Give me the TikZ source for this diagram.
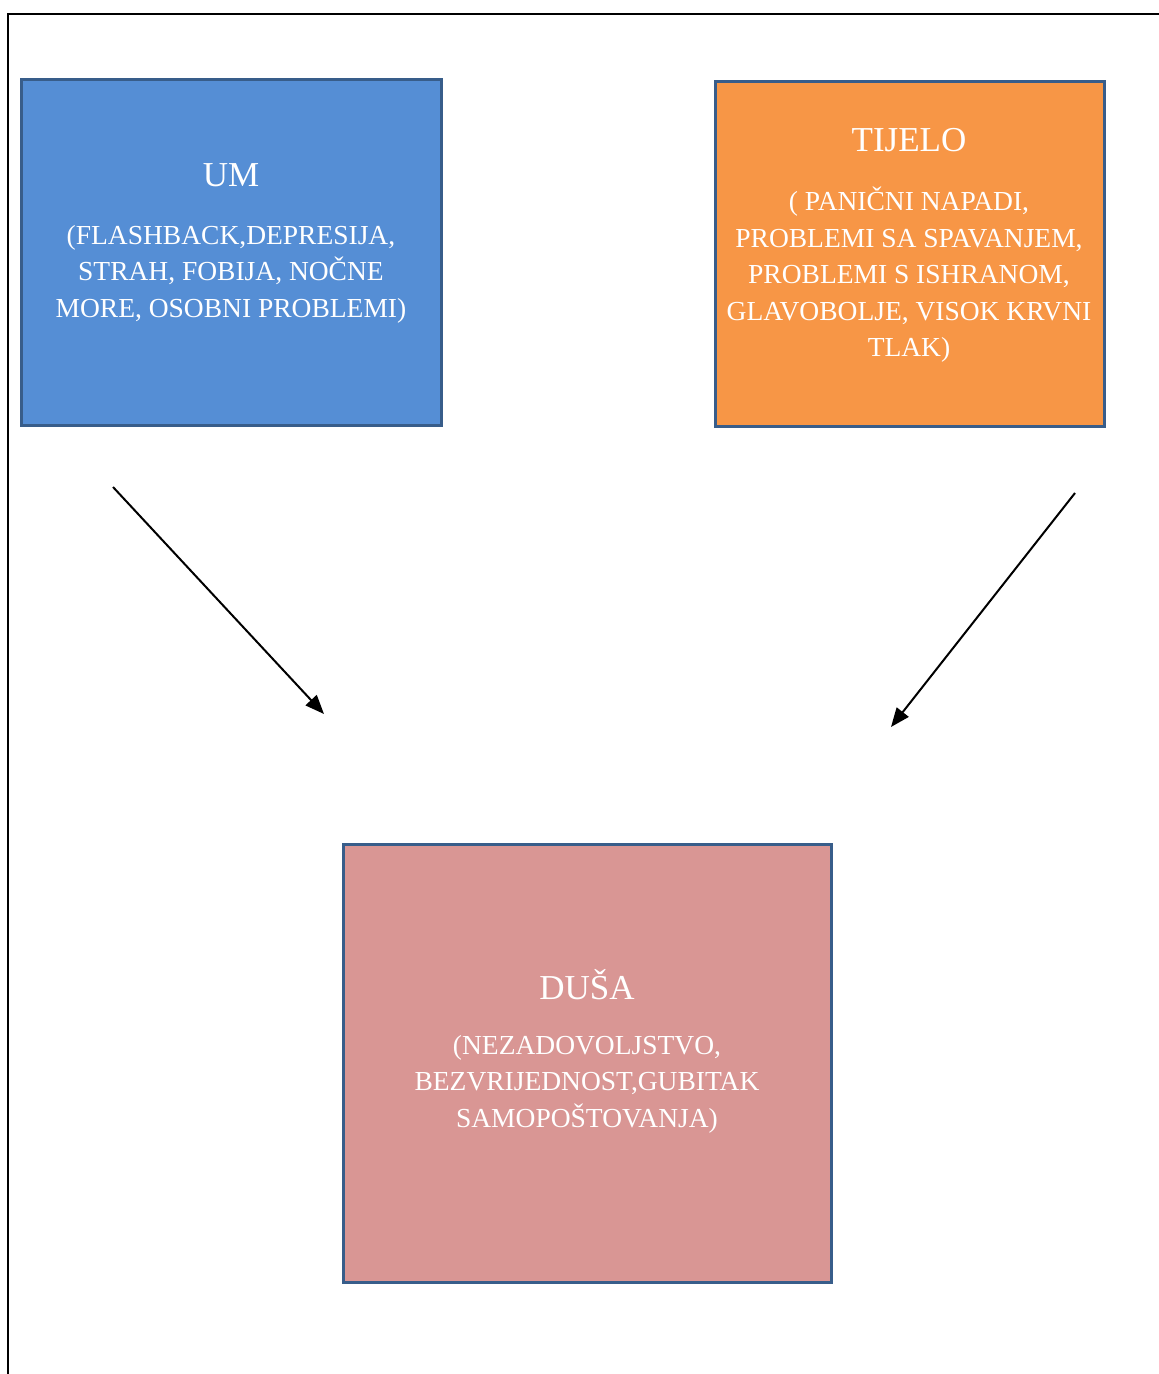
\documentclass[tikz,border=0pt]{standalone}
\usepackage{fontspec}
\setmainfont{Liberation Serif}
\usetikzlibrary{arrows.meta}
\definecolor{boxline}{RGB}{56,93,138}
\definecolor{umfill}{RGB}{85,142,213}
\definecolor{tijelofill}{RGB}{247,150,70}
\definecolor{dusafill}{RGB}{217,150,148}
\tikzset{
  panel/.style={draw=boxline, line width=3pt, rectangle, inner sep=0pt},
  titletext/.style={text=white, font=\fontsize{35}{42}\selectfont, inner sep=0pt},
  bodytext/.style={text=white, font=\fontsize{27.5}{36.5}\selectfont, align=center, inner sep=0pt},
  arrowline/.style={line width=2pt, -{Triangle[length=19pt,width=15pt]}},
  frameline/.style={line width=2pt}
}
\begin{document}
\begin{tikzpicture}[x=1pt,y=-1pt]
\useasboundingbox (0,0) rectangle (1159,1374);
% page frame
\coordinate (ftr) at (1159,14);
\coordinate (ftl) at (8,14);
\coordinate (fbl) at (8,1374);
\draw[frameline] (ftr) -- (ftl) -- (fbl);
% boxes
\node[panel, fill=umfill, minimum width=420pt, minimum height=346pt] (um) at (231,252) {};
\node[panel, fill=tijelofill, minimum width=389pt, minimum height=345pt] (tijelo) at (909.5,253.5) {};
\node[panel, fill=dusafill, minimum width=488pt, minimum height=438pt] (dusa) at (587,1063) {};
% texts
\node[titletext] (umt) at (231,175) {UM};
\node[bodytext] (umb) at (231,274) {(FLASHBACK,DEPRESIJA,\\STRAH, FOBIJA, NOČNE\\MORE, OSOBNI PROBLEMI)};
\node[titletext] (tijelot) at (909,140) {TIJELO};
\node[bodytext] (tijelob) at (909,275) {( PANIČNI NAPADI,\\PROBLEMI SA SPAVANJEM,\\PROBLEMI S ISHRANOM,\\GLAVOBOLJE, VISOK KRVNI\\TLAK)};
\node[titletext] (dusat) at (587,985) {DUŠA};
\node[bodytext] (dusab) at (587,1084) {(NEZADOVOLJSTVO,\\BEZVRIJEDNOST,GUBITAK\\SAMOPOŠTOVANJA)};
% arrows
\coordinate (a1s) at (113,487);
\coordinate (a1e) at (324,714);
\coordinate (a2s) at (1075,493);
\coordinate (a2e) at (891,727);
\draw[arrowline] (a1s) -- (a1e);
\draw[arrowline] (a2s) -- (a2e);
\end{tikzpicture}
\end{document}
